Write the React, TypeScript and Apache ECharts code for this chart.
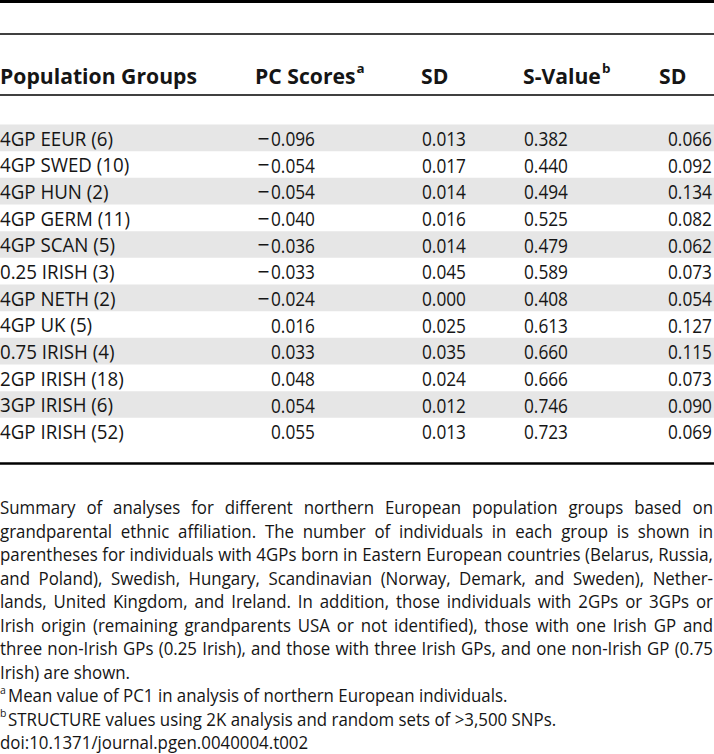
import React, { useEffect, useRef } from 'react';
import * as echarts from 'echarts';

// ---------- data ----------
const groups = [
  '4GP EEUR (6)', '4GP SWED (10)', '4GP HUN (2)', '4GP GERM (11)', '4GP SCAN (5)', '0.25 IRISH (3)',
  '4GP NETH (2)', '4GP UK (5)', '0.75 IRISH (4)', '2GP IRISH (18)', '3GP IRISH (6)', '4GP IRISH (52)',
];
const pcScores = [-0.096, -0.054, -0.054, -0.040, -0.036, -0.033, -0.024, 0.016, 0.033, 0.048, 0.054, 0.055];
const pcSD = [0.013, 0.017, 0.014, 0.016, 0.014, 0.045, 0.000, 0.025, 0.035, 0.024, 0.012, 0.013];
const sValues = [0.382, 0.440, 0.494, 0.525, 0.479, 0.589, 0.408, 0.613, 0.660, 0.666, 0.746, 0.723];
const sSD = [0.066, 0.092, 0.134, 0.082, 0.062, 0.073, 0.054, 0.127, 0.115, 0.073, 0.090, 0.069];

const headers = ['Population Groups', 'PC Scores', 'SD', 'S-Value', 'SD'];
const headerSups = ['', 'a', '', 'b', ''];

const captionLines = [
  { sup: '', text: 'Summary of analyses for different northern European population groups based on', justify: true },
  { sup: '', text: 'grandparental ethnic affiliation. The number of individuals in each group is shown in', justify: true },
  { sup: '', text: 'parentheses for individuals with 4GPs born in Eastern European countries (Belarus, Russia,', justify: true },
  { sup: '', text: 'and Poland), Swedish, Hungary, Scandinavian (Norway, Demark, and Sweden), Nether-', justify: true },
  { sup: '', text: 'lands, United Kingdom, and Ireland. In addition, those individuals with 2GPs or 3GPs or', justify: true },
  { sup: '', text: 'Irish origin (remaining grandparents USA or not identified), those with one Irish GP and', justify: true },
  { sup: '', text: 'three non-Irish GPs (0.25 Irish), and those with three Irish GPs, and one non-Irish GP (0.75', justify: true },
  { sup: '', text: 'Irish) are shown.', justify: false },
  { sup: 'a', text: 'Mean value of PC1 in analysis of northern European individuals.', justify: false },
  { sup: 'b', text: 'STRUCTURE values using 2K analysis and random sets of >3,500 SNPs.', justify: false },
  { sup: '', text: 'doi:10.1371/journal.pgen.0040004.t002', justify: false },
];

// ---------- layout ----------
const W = 714;
const H = 754;
const FONT = '"Open Sans", "Noto Sans", sans-serif';
const TEXT = '#151515';
const ROWFILL = '#e6e6e6';
const ROWS_TOP = 124.5;
const ROWS_BOTTOM = 444.5;
const HEADER_Y = 76;
const headerLeft = [0, 255, 421, 523, 659];
const numRight = [0, 315, 466, 568, 712];
const CAP_Y0 = 507;
const CAP_STEP = 23.5;
const RIGHT = 713;
const CAP_SIZE = 18.5;
const ROW_SIZE = 20;
const HEAD_SIZE = 20.5;

export default function App() {
  const ref = useRef<HTMLDivElement>(null);

  useEffect(() => {
    document.body.style.margin = '0';
    const chart = echarts.init(ref.current!, null, { renderer: 'svg', width: W, height: H });

    const canvas = document.createElement('canvas');
    const ctx = canvas.getContext('2d')!;
    const meas = (t: string, weight = 'normal', size = CAP_SIZE) => {
      ctx.font = `${weight} ${size}px ${FONT}`;
      return ctx.measureText(t).width;
    };

    const SX = (RIGHT - 1) / meas(captionLines[2].text);
    const SXH = 197 / meas(headers[0], 'bold', HEAD_SIZE);
    const SXG = 113 / meas(groups[0], 'normal', ROW_SIZE);
    const SXN = 44 / meas('0.013', 'normal', ROW_SIZE);

    const txt = (
      text: string, x: number, y: number, align: string,
      opts: { size?: number; weight?: string; sx?: number } = {}
    ) => ({
      type: 'text',
      x,
      y,
      scaleX: opts.sx ?? SX,
      silent: true,
      style: {
        text,
        x: 0,
        y: 0,
        fill: TEXT,
        fontSize: opts.size ?? CAP_SIZE,
        fontWeight: opts.weight ?? 'normal',
        fontFamily: FONT,
        align,
        verticalAlign: 'middle',
        textAlign: align,
        textVerticalAlign: 'middle',
      },
    });

    const graphics: any[] = [];
    const hline = (y: number, lw: number) => ({
      type: 'line',
      shape: { x1: 0, y1: y, x2: W, y2: y },
      style: { stroke: '#000', lineWidth: lw },
      silent: true,
    });
    graphics.push(hline(1.5, 3), hline(34, 1.6), hline(95, 1.6), hline(463.5, 2.6));

    // header
    headers.forEach((h, i) => {
      graphics.push(txt(h, headerLeft[i], HEADER_Y, 'left', { size: HEAD_SIZE, weight: 'bold', sx: SXH }));
      if (headerSups[i]) {
        const w = meas(h, 'bold', HEAD_SIZE) * SXH;
        graphics.push(
          txt(headerSups[i], headerLeft[i] + w + 1, HEADER_Y - 8, 'left', { size: 13, weight: 'bold', sx: SXH })
        );
      }
    });

    // caption
    captionLines.forEach((ln, li) => {
      const y = CAP_Y0 + li * CAP_STEP;
      let x0 = 0;
      if (ln.sup) {
        graphics.push(txt(ln.sup, 0, y - 6, 'left', { size: 11.5 }));
        x0 = 8;
      }
      if (!ln.justify) {
        graphics.push(txt(ln.text, x0, y, 'left'));
        return;
      }
      const words = ln.text.split(' ');
      const widths = words.map((w) => meas(w) * SX);
      const total = widths.reduce((a, b) => a + b, 0);
      const gap = (RIGHT - x0 - total) / (words.length - 1);
      let x = x0;
      words.forEach((w, wi) => {
        graphics.push(txt(w, x, y, 'left'));
        x += widths[wi] + gap;
      });
    });

    const cols = [pcScores, pcSD, sValues, sSD];

    chart.setOption({
      animation: false,
      backgroundColor: '#ffffff',
      grid: { left: 0, right: 0, top: ROWS_TOP, bottom: H - ROWS_BOTTOM, containLabel: false },
      xAxis: { type: 'value', min: 0, max: W, show: false },
      yAxis: { type: 'category', data: groups, inverse: true, show: false },
      series: [
        {
          type: 'custom',
          data: groups.map((g, i) => [0, i]),
          encode: { x: 0, y: 1 },
          renderItem: (params: any, api: any) => {
            const i = params.dataIndex;
            const p = api.coord([0, i]);
            const band = api.size([0, 1])[1];
            const cy = p[1];
            const children: any[] = [];
            if (i % 2 === 0) {
              children.push({
                type: 'rect',
                shape: { x: p[0], y: cy - band / 2, width: W, height: band },
                style: { fill: ROWFILL },
              });
            }
            children.push(txt(groups[i], p[0], cy, 'left', { sx: SXG, size: ROW_SIZE }));
            cols.forEach((arr, ci) => {
              const v = arr[i];
              const s = Math.abs(v).toFixed(3);
              const rx = p[0] + numRight[ci + 1];
              children.push(txt(s, rx, cy, 'right', { sx: SXN, size: ROW_SIZE }));
              if (v < 0) {
                const w = meas(s, 'normal', ROW_SIZE) * SXN;
                children.push(txt('\u2212', rx - w - 1.5, cy, 'right', { sx: 1.05, size: ROW_SIZE }));
              }
            });
            return { type: 'group', children };
          },
        },
      ],
      graphic: { elements: graphics },
    });

    return () => chart.dispose();
  }, []);

  return (
    <div
      ref={ref}
      style={{ position: 'absolute', left: 0, top: 0, width: W, height: H, background: '#fff' }}
    />
  );
}
